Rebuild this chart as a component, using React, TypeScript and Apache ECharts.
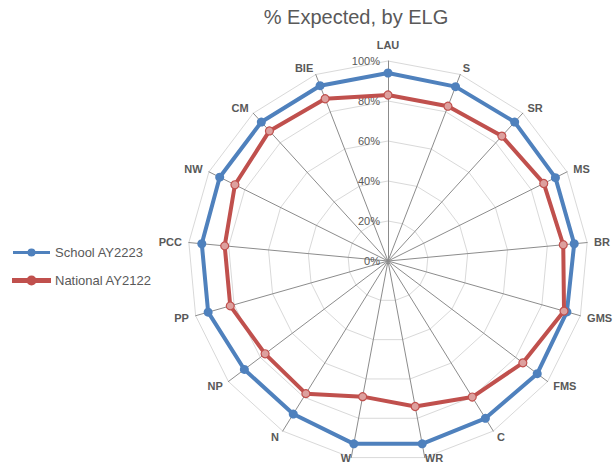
import React, { useEffect, useRef } from "react";
import * as echarts from "echarts";

const categories = ["LAU", "S", "SR", "MS", "BR", "GMS", "FMS", "C", "WR", "W", "N", "NP", "PP", "PCC", "NW", "CM", "BIE"];
const schoolValues = [94, 93.5, 94, 93.5, 93.5, 93, 93.5, 92.5, 93, 93, 90, 90, 93.5, 93.5, 94, 94, 94];
const nationalValues = [83, 83, 84.5, 87, 88, 91.5, 84.5, 80, 74, 69, 78, 77, 82, 82, 85.5, 88, 87];
const seriesNames = ["School AY2223", "National AY2122"];
const titleText = "% Expected, by ELG";

// label spacing tweaks (style only)
const nameGapOverrides: Record<string, number> = { LAU: 11, W: 0, WR: 0 };

// ECharts radar runs counter-clockwise; reorder so the picture goes clockwise
const cw = <T,>(arr: T[]): T[] => [arr[0], ...arr.slice(1).reverse()];

const legendLinePath =
  "path://M0,3.5 L14.8,3.5 L14.8,6.5 L0,6.5 Z M22.2,3.5 L37,3.5 L37,6.5 L22.2,6.5 Z M14.5,5 A4,4 0 1,1 22.5,5 A4,4 0 1,1 14.5,5 Z";

export default function App() {
  const ref = useRef<HTMLDivElement>(null);
  useEffect(() => {
    document.body.style.margin = "0";
    if (!ref.current) return;
    const chart = echarts.init(ref.current, null, { renderer: "svg" });
    const font = "Liberation Sans";
    const indicators = cw(categories).map((c, i) => {
      const ind: any = { name: c, max: 100, min: 0 };
      if (i === 0) ind.axisLabel = { show: true };
      if (nameGapOverrides[c] !== undefined) ind.nameGap = nameGapOverrides[c];
      return ind;
    });
    chart.setOption({
      animation: false,
      textStyle: { fontFamily: font },
      title: {
        text: titleText,
        left: 351,
        top: 2,
        padding: [5, 5],
        textAlign: "center",
        textStyle: { fontFamily: font, fontSize: 20, fontWeight: "normal", color: "#595959" },
      },
      legend: {
        orient: "vertical",
        left: 7,
        top: 241,
        itemWidth: 37,
        itemHeight: 8,
        itemGap: 15,
        textStyle: { fontFamily: font, fontSize: 13, color: "#595959" },
        data: [
          { name: seriesNames[0], icon: legendLinePath, itemStyle: { color: "#4F81BD" } },
          { name: seriesNames[1], icon: legendLinePath, itemStyle: { color: "#C0504D" } },
        ],
      },
      radar: {
        center: [388, 261],
        radius: 200,
        startAngle: 90,
        splitNumber: 5,
        shape: "polygon",
        nameGap: 7,
        axisName: { color: "#595959", fontSize: 11, fontWeight: "bold", fontFamily: font },
        axisLine: { lineStyle: { color: "#8c8c8c", width: 1 } },
        splitLine: { lineStyle: { color: "#d9d9d9", width: 1 } },
        splitArea: { show: false },
        axisTick: { show: false },
        axisLabel: {
          show: false,
          color: "#595959",
          fontSize: 11,
          fontFamily: font,
          margin: 8,
          formatter: (v: number) => `${v}%`,
        },
        indicator: indicators,
      },
      series: [
        {
          type: "radar",
          data: [
            {
              name: seriesNames[0],
              value: cw(schoolValues),
              symbol: "circle",
              symbolSize: 9,
              lineStyle: { color: "#4F81BD", width: 4 },
              itemStyle: { color: "#4F81BD" },
            },
            {
              name: seriesNames[1],
              value: cw(nationalValues),
              symbol: "circle",
              symbolSize: 8,
              lineStyle: { color: "#C0504D", width: 4 },
              itemStyle: { color: "#DDA09E", borderColor: "#C0504D", borderWidth: 1.2 },
            },
          ],
        },
      ],
    });
    return () => chart.dispose();
  }, []);
  return <div ref={ref} style={{ width: 616, height: 471 }} />;
}
